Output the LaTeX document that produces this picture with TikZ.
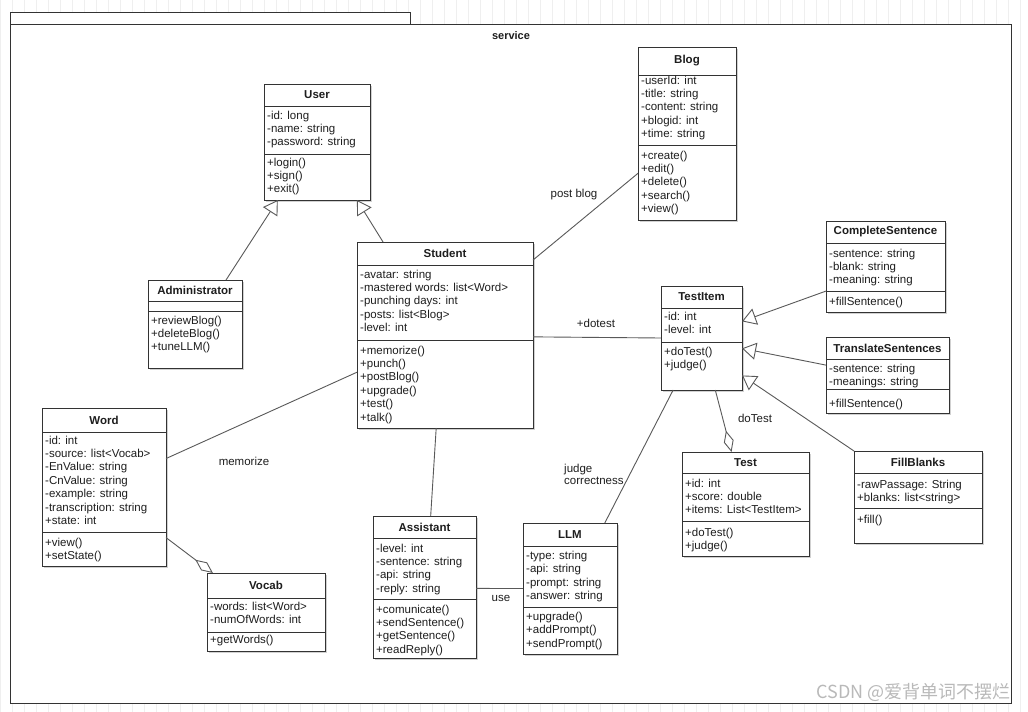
\documentclass[tikz,border=0pt]{standalone}
\usepackage{fontspec}
\setmainfont{Liberation Sans}
\newfontfamily\cjkfont{Noto Sans CJK SC}
\usetikzlibrary{arrows.meta,calc,shadows}
\definecolor{boxc}{HTML}{333333}
\definecolor{linec}{HTML}{595959}
\definecolor{textc}{HTML}{1E1E1E}
\definecolor{gridc}{HTML}{EFEFEF}
\tikzset{
  clsbox/.style={draw=boxc, line width=0.9pt, fill=white, inner sep=0pt, outer sep=0pt,
    drop shadow={shadow xshift=2pt, shadow yshift=-2pt, opacity=0.18, fill=black}},
  clsline/.style={draw=boxc, line width=0.9pt},
  ltext/.style={inner sep=0pt, text=textc, font=\fontsize{11.5}{13.5}\selectfont},
  ttext/.style={inner sep=0pt, text=textc, font=\fontsize{11.5}{13.5}\selectfont\bfseries},
  lbl/.style={inner sep=0pt, text=textc, font=\fontsize{11.5}{12}\selectfont},
  conn/.style={draw=linec, line width=0.9pt},
  gen/.style={conn, -{Triangle[length=14pt, width=17pt, fill=white, line width=0.9pt]}},
  agg/.style={conn, -{Diamond[length=22pt, width=10pt, fill=white, line width=0.9pt]}},
}
% name, left, top, right, bottom, header divider, attribute divider, title
\newcommand\ucls[8]{%
  \node[clsbox, anchor=north west, minimum width={#4-#2}, minimum height={#5-#3}] (#1) at (#2,#3) {};
  \draw[clsline] (#2,#6) -- (#4,#6);
  \draw[clsline] (#2,#7) -- (#4,#7);
  \node[ttext] (#1-title) at ({(#2+#4)/2},{(#3+#6)/2}) {#8};
}
% prefix, x, first baseline, lines
\newcommand\ulines[4]{%
  \foreach \t [count=\i] in {#4} {
    \node[ltext, anchor=base west] (#1\i) at (#2,{#3+(\i-1)*13.4}) {\t};
  }
}
\begin{document}
\begin{tikzpicture}[x=1pt,y=-1pt]
\useasboundingbox (0,0) rectangle (1028,712);
\fill[white] (0,0) rectangle (1028,712);
\draw[gridc, line width=0.5pt, step=12] (0,0) grid (1028,712);
% package frame
\draw[boxc, line width=0.9pt, fill=white] (10,12) rectangle (410,24);
\draw[boxc, line width=0.9pt, fill=white] (10,24) rectangle (1011,703);
\node[ttext, font=\fontsize{11}{13}\selectfont\bfseries] (svc) at (511,36) {service};

% classes
\ucls{user}{264}{84}{370}{200}{106}{154}{User}
\ulines{user-a}{267}{119}{-id: long,-name: string,-password: string}
\ulines{user-m}{267}{166}{+login(),+sign(),+exit()}

\ucls{blog}{638}{47}{736}{220}{75}{145}{Blog}
\ulines{blog-a}{641}{84}{-userId: int,-title: string,-content: string,+blogid: int,+time: string}
\ulines{blog-m}{641}{159}{+create(),+edit(),+delete(),+search(),+view()}

\ucls{admin}{148}{280}{242}{368}{301}{311}{Administrator}
\ulines{admin-m}{151}{324}{+reviewBlog(),+deleteBlog(),+tuneLLM()}

\ucls{student}{357}{242}{533}{428}{265}{340}{Student}
\ulines{student-a}{360}{278}{-avatar: string,-mastered words: list<Word>,-punching days: int,-posts: list<Blog>,-level: int}
\ulines{student-m}{360}{354}{+memorize(),+punch(),+postBlog(),+upgrade(),+test(),+talk()}

\ucls{word}{42}{408}{166}{566}{432}{532}{Word}
\ulines{word-a}{45}{444}{-id: int,-source: list<Vocab>,-EnValue: string,-CnValue: string,-example: string,-transcription: string,+state: int}
\ulines{word-m}{45}{546}{+view(),+setState()}

\ucls{vocab}{207}{573}{325}{651}{598}{632}{Vocab}
\ulines{vocab-a}{210}{610.5}{-words: list<Word>,-numOfWords: int}
\ulines{vocab-m}{210}{643}{+getWords()}

\ucls{assist}{373}{516}{476}{658}{538}{599}{Assistant}
\ulines{assist-a}{376}{552}{-level: int,-sentence: string,-api: string,-reply: string}
\ulines{assist-m}{376}{613}{+comunicate(),+sendSentence(),+getSentence(),+readReply()}

\ucls{llm}{523}{523}{617}{654}{546}{607}{LLM}
\ulines{llm-a}{526}{559.5}{-type: string,-api: string,-prompt: string,-answer: string}
\ulines{llm-m}{526}{620.5}{+upgrade(),+addPrompt(),+sendPrompt()}

\ucls{item}{661}{286}{742}{390}{308}{342}{TestItem}
\ulines{item-a}{664}{320.5}{-id: int,-level: int}
\ulines{item-m}{664}{355.5}{+doTest(),+judge()}

\ucls{test}{682}{452}{809}{556}{473}{521}{Test}
\ulines{test-a}{685}{487}{+id: int,+score: double,+items: List<TestItem>}
\ulines{test-m}{685}{536}{+doTest(),+judge()}

\ucls{fill}{854}{451}{982}{543}{473}{508}{FillBlanks}
\ulines{fill-a}{857}{488}{-rawPassage: String,+blanks: list<string>}
\ulines{fill-m}{857}{523}{+fill()}

\ucls{compl}{826}{221}{945}{312}{243}{291}{CompleteSentence}
\ulines{compl-a}{829}{257}{-sentence: string,-blank: string,-meaning: string}
\ulines{compl-m}{829}{305}{+fillSentence()}

\ucls{trans}{826}{337}{949}{413}{359}{389}{TranslateSentences}
\ulines{trans-a}{829}{372.5}{-sentence: string,-meanings: string}
\ulines{trans-m}{829}{407}{+fillSentence()}

% connectors
\draw[gen] ($(admin.north west)!0.83!(admin.north east)$) -- ($(user.south west)!0.13!(user.south east)$);
\draw[gen] ($(student.north west)!0.148!(student.north east)$) -- ($(user.south west)!0.877!(user.south east)$);
\draw[conn] ($(student.north east)!0.097!(student.south east)$) -- ($(blog.north west)!0.73!(blog.south west)$);
\draw[conn] ($(student.north east)!0.51!(student.south east)$) -- ($(item.north west)!0.5!(item.south west)$);
\draw[conn] ($(student.north west)!0.70!(student.south west)$) -- ($(word.north east)!0.32!(word.south east)$);
\draw[conn] ($(student.south west)!0.45!(student.south east)$) -- ($(assist.north west)!0.56!(assist.north east)$);
\draw[conn] ($(assist.north east)!0.51!(assist.south east)$) -- ($(llm.north west)!0.50!(llm.south west)$);
\draw[conn] ($(item.south west)!0.15!(item.south east)$) -- ($(llm.north west)!0.87!(llm.north east)$);
\draw[agg] ($(item.south west)!0.67!(item.south east)$) -- ($(test.north west)!0.39!(test.north east)$);
\draw[agg] ($(word.north east)!0.82!(word.south east)$) -- ($(vocab.north west)!0.05!(vocab.north east)$);
\draw[gen] ($(compl.north west)!0.77!(compl.south west)$) -- ($(item.north east)!0.34!(item.south east)$);
\draw[gen] ($(trans.north west)!0.37!(trans.south west)$) -- ($(item.north east)!0.60!(item.south east)$);
\draw[gen] (fill.north west) -- ($(item.north east)!0.86!(item.south east)$);

% connector labels
\node[lbl] (l-post) at (574,195) {post blog};
\node[lbl] (l-dotest) at (596,323) {+dotest};
\node[lbl] (l-mem) at (244,461) {memorize};
\node[lbl] (l-use) at (501,598) {use};
\node[lbl] (l-doTest) at (755,418) {doTest};
\node[lbl, align=left, anchor=west] (l-judge) at (564,474) {judge\\correctness};

% watermark
\node[inner sep=0pt, text=gray!55, font=\cjkfont\fontsize{18}{20}\selectfont, anchor=east] (wm) at (1011,692) {CSDN @爱背单词不摆烂};
\end{tikzpicture}
\end{document}
